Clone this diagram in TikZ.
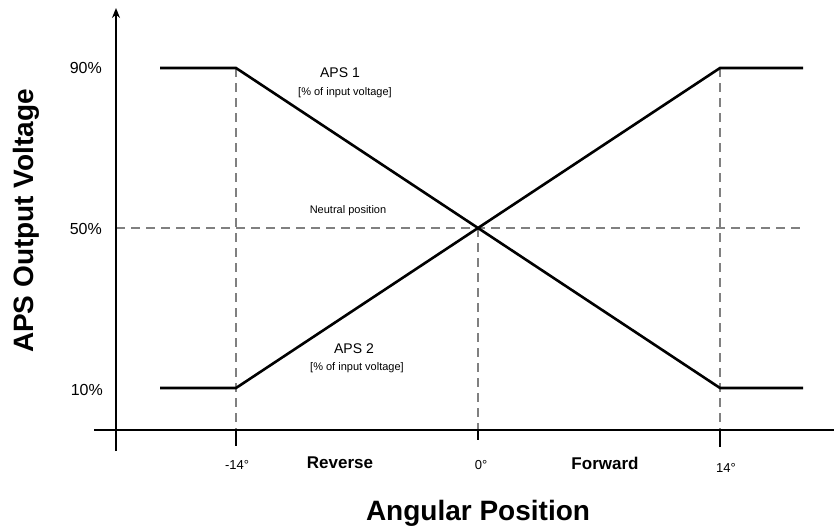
\documentclass[tikz,border=0pt]{standalone}
\usepackage{fontspec}
\setmainfont{Liberation Sans}
\usetikzlibrary{arrows.meta}
\begin{document}
\begin{tikzpicture}[x=1pt,y=-1pt,
  axisline/.style={line width=1.6pt,black},
  curveline/.style={line width=2.6pt,black,line join=miter},
  guide/.style={line width=1.4pt,black!50,dash pattern=on 9pt off 6pt},
  pct/.style={anchor=base east,inner sep=0pt,font=\fontsize{16}{18}\selectfont},
  deg/.style={anchor=base,inner sep=0pt,font=\fontsize{13}{15}\selectfont},
  dirlab/.style={anchor=base,inner sep=0pt,font=\bfseries\fontsize{17}{19}\selectfont},
  title/.style={anchor=base,inner sep=0pt,font=\bfseries\fontsize{28}{32}\selectfont},
  apslab/.style={anchor=base,inner sep=0pt,font=\fontsize{14}{16}\selectfont},
  note/.style={anchor=base,inner sep=0pt,font=\fontsize{11}{13}\selectfont}]
\useasboundingbox (0,0) rectangle (837,530);
% key coordinates
\coordinate (origin) at (116,430);
\coordinate (ytop) at (116,8);
\coordinate (ybot) at (116,451);
\coordinate (xleft) at (94,430);
\coordinate (xright) at (834,430);
\coordinate (Lhi) at (160,68);
\coordinate (Llo) at (160,388);
\coordinate (Ahi) at (236,68);
\coordinate (Alo) at (236,388);
\coordinate (Bhi) at (720,68);
\coordinate (Blo) at (720,388);
\coordinate (Rhi) at (803,68);
\coordinate (Rlo) at (803,388);
\coordinate (mid) at (478,228);
\coordinate (midL) at (116,228);
\coordinate (midR) at (803,228);
\coordinate (tA) at (236,430);
\coordinate (tA2) at (236,446);
\coordinate (t0) at (478,430);
\coordinate (t02) at (478,440);
\coordinate (tB) at (720,430);
\coordinate (tB2) at (720,447);
% guides
\draw[guide] (midL) -- (midR);
\draw[guide] (Ahi) -- (tA);
\draw[guide] (Bhi) -- (tB);
\draw[guide] (mid) -- (t0);
% axes
\draw[axisline] (xleft) -- (xright);
\draw[axisline,-{Stealth[length=10pt,width=8pt]}] (ybot) -- (ytop);
\draw[axisline] (tA) -- (tA2);
\draw[axisline] (t0) -- (t02);
\draw[axisline] (tB) -- (tB2);
% curves
\draw[curveline] (Lhi) -- (Ahi) -- (Blo) -- (Rlo);
\draw[curveline] (Llo) -- (Alo) -- (Bhi) -- (Rhi);
% labels
\node[pct] (p90) at (102,73) {90\%};
\node[pct] (p50) at (102,234) {50\%};
\node[pct] (p10) at (103,395) {10\%};
\node[deg] (dm14) at (237,469) {-14°};
\node[deg] (d0) at (481,469) {0°};
\node[deg] (d14) at (726,472) {14°};
\node[dirlab] (rev) at (340,468) {Reverse};
\node[dirlab] (fwd) at (605,469) {Forward};
\node[title] (xt) at (478,520) {Angular Position};
\node[title,rotate=90] (yt) at (33,221) {APS Output Voltage};
\node[apslab] (a1) at (340,77) {APS 1};
\node[note] (a1n) at (345,95) {[\% of input voltage]};
\node[apslab] (a2) at (354,353) {APS 2};
\node[note] (a2n) at (357,370) {[\% of input voltage]};
\node[note] (neu) at (348,213) {Neutral position};
\end{tikzpicture}
\end{document}
